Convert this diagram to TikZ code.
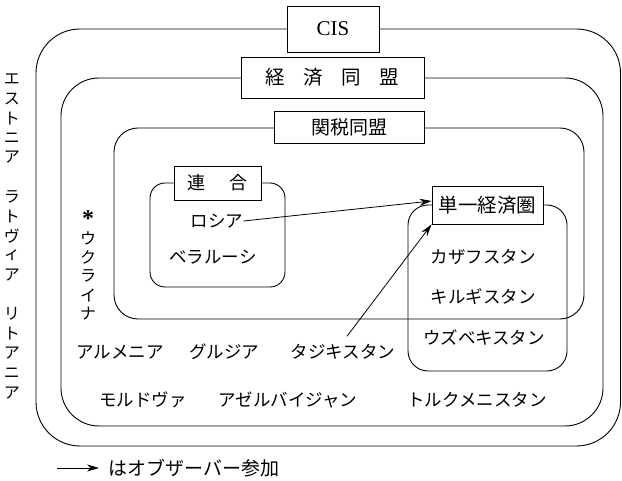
\documentclass[tikz,border=0pt]{standalone}
\usepackage{fontspec}
\setmainfont{Liberation Serif}
\newfontfamily\cjk{Noto Sans CJK JP}
\usetikzlibrary{arrows.meta,calc}
\begin{document}
\begin{tikzpicture}[x=1pt,y=-1pt,
  every node/.style={inner sep=0pt},
  frame/.style={draw=black,line width=0.9pt,rounded corners=#1},
  titlebox/.style={draw=black,fill=white,line width=0.9pt,inner sep=0pt},
  kana/.style={font=\cjk\fontsize{17.5}{17.5}\selectfont},
  vkana/.style={font=\cjk\fontsize{16}{16}\selectfont},
  obs/.style={line width=0.8pt,-{Stealth[length=12pt,width=7pt]}}
]
\useasboundingbox (0,0) rectangle (622,481);

% frames
\draw[frame=44pt] (36,29) rectangle (620.5,446);
\draw[frame=38pt] (61,78) rectangle (603,426);
\draw[frame=24pt] (114,128) rectangle (584,319);
\draw[frame=15pt] (150,183) rectangle (285,287);
\draw[frame=20pt] (408,205) rectangle (567,371);

% title boxes
\node[titlebox,minimum width=92pt,minimum height=46pt,font=\fontsize{21}{21}\selectfont] (cis) at (333,29) {CIS};
\node[titlebox,minimum width=183pt,minimum height=41pt,font=\cjk\fontsize{19.5}{19.5}\selectfont] (econ) at (332.5,77.5) {経\hspace{0.95em}済\hspace{0.95em}同\hspace{0.95em}盟};
\node[titlebox,minimum width=150pt,minimum height=32pt,font=\cjk\fontsize{19}{19}\selectfont] (cust) at (349,127) {関税同盟};
\node[titlebox,minimum width=87pt,minimum height=34pt,font=\cjk\fontsize{18}{18}\selectfont] (union) at (217.5,183) {連\hspace{1.3em}合};
\node[titlebox,minimum width=111pt,minimum height=38pt,font=\cjk\fontsize{19.5}{19.5}\selectfont] (ses) at (487.5,205) {単一経済圏};

% countries
\node[kana] (rus) at (217,221) {ロシア};
\node[kana] (blr) at (213,257) {ベラルーシ};
\node[kana] (kaz) at (483,257) {カザフスタン};
\node[kana] (kgz) at (483,297) {キルギスタン};
\node[kana] (uzb) at (484,337) {ウズベキスタン};
\node[kana] (arm) at (120,352) {アルメニア};
\node[kana] (geo) at (224,352) {グルジア};
\node[kana] (taj) at (343,352) {タジキスタン};
\node[kana] (mda) at (143,400) {モルドヴァ};
\node[kana] (aze) at (288,400) {アゼルバイジャン};
\node[kana] (tkm) at (477,400) {トルクメニスタン};

% vertical texts
\foreach \c [count=\i] in {エ,ス,ト,ニ,ア,{},ラ,ト,ヴ,ィ,ア,{},リ,ト,ア,ニ,ア}
  \node[vkana] (bal\i) at (12,{79+(\i-1)*19.6}) {\c};
\node[anchor=north,font=\bfseries\fontsize{24}{24}\selectfont] (ast) at (88,210) {*};
\foreach \c [count=\i] in {ウ,ク,ラ,イ,ナ}
  \node[vkana] (ukr\i) at (88,{238+(\i-1)*19}) {\c};

% observer arrows
\draw[obs] (rus.east) -- ([yshift=4pt]ses.west);
\coordinate (tajs) at ($(taj.north)+(4,-8)$);
\draw[obs] (tajs) -- (ses.south west);

% legend
\coordinate (lga) at (57,468);
\coordinate (lgb) at (99,468);
\draw[obs] (lga) -- (lgb);
\node[anchor=west,font=\cjk\fontsize{19}{19}\selectfont] (lgt) at (108,468) {はオブザーバー参加};
\end{tikzpicture}
\end{document}
